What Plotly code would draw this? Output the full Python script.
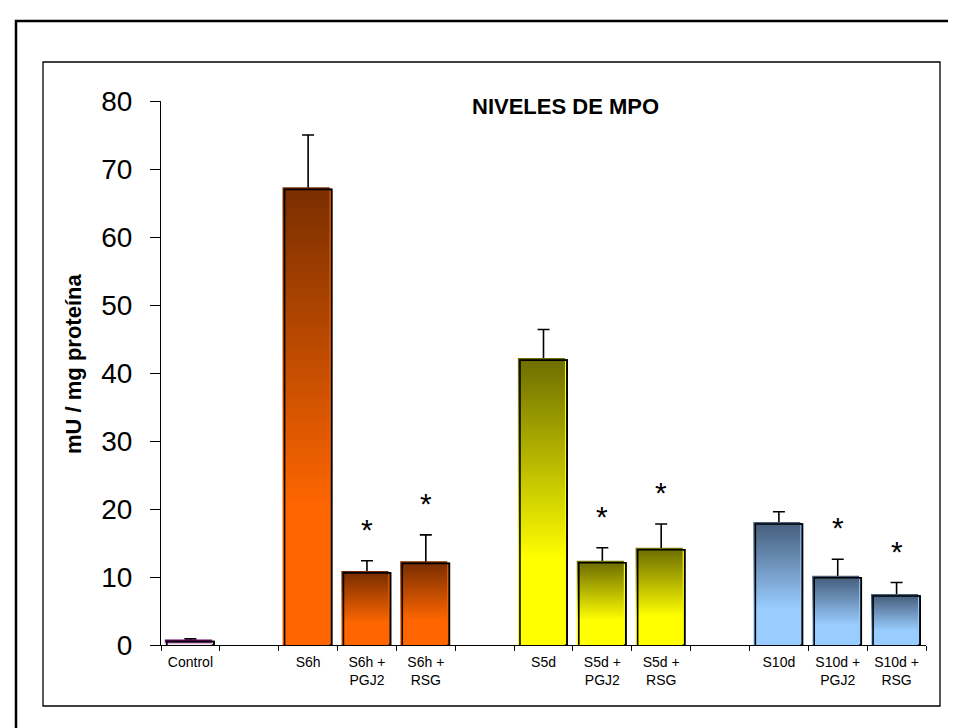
import plotly.graph_objects as go

# ---- data ----
categories = ["Control", "", "S6h", "S6h +<br>PGJ2", "S6h +<br>RSG", "",
              "S5d", "S5d +<br>PGJ2", "S5d +<br>RSG", "",
              "S10d", "S10d +<br>PGJ2", "S10d +<br>RSG"]
values = [0.5, None, 67.0, 10.6, 12.0, None, 41.9, 12.1, 14.0, None, 17.8, 9.9, 7.2]
errors = [0.4, None, 8.0, 1.8, 4.2, None, 4.5, 2.2, 3.8, None, 1.8, 2.7, 2.0]
significant = [False, False, False, True, True, False, False, True, True, False, False, True, True]
groups = ["ctrl", None, "s6h", "s6h", "s6h", None, "s5d", "s5d", "s5d", None, "s10d", "s10d", "s10d"]

title_text = "NIVELES DE MPO"
y_title = "mU / mg proteína"
y_ticks = [0, 10, 20, 30, 40, 50, 60, 70, 80]

# ---- styles ----
palette = {
    "ctrl": ("#f0e0f0", "#660066"),
    "s6h": ("#ff6600", "#7a2e00"),
    "s5d": ("#ffff00", "#6e6e00"),
    "s10d": ("#99ccff", "#465f7d"),
}
BAR_W = 0.8
SHIFT_X = 0.035   # shadow offset of the fill (x units)
SHIFT_Y = 0.3     # shadow offset of the fill (y units)
FONT = "Liberation Sans, Arial, sans-serif"

fig = go.Figure()

idx = [i for i, v in enumerate(values) if v is not None]

# base bars with error bars
fig.add_trace(go.Bar(
    x=idx, y=[values[i] for i in idx], width=BAR_W,
    marker=dict(color=[palette[groups[i]][0] for i in idx], line=dict(color="black", width=1.5)),
    error_y=dict(type="data", symmetric=False, array=[errors[i] for i in idx],
                 arrayminus=[0] * len(idx), color="black", thickness=1.6, width=6),
    showlegend=False, hoverinfo="skip",
))

# gradient fill per bar (slightly offset up-left, like the original 3-D look)
for i in idx:
    v = values[i]
    bottom, top = palette[groups[i]]
    x0, x1 = i - BAR_W / 2 - SHIFT_X, i + BAR_W / 2 - SHIFT_X
    fig.add_trace(go.Scatter(
        x=[x0, x0, x1, x1, x0], y=[0, v + SHIFT_Y, v + SHIFT_Y, 0, 0],
        mode="lines", fill="toself", line=dict(width=0),
        fillgradient=dict(type="vertical", start=0, stop=v,
                          colorscale=[[0, bottom], [0.3, bottom], [1, top]]),
        showlegend=False, hoverinfo="skip",
    ))

# black outlines of the bars
ox, oy = [], []
for i in idx:
    v = values[i]
    x0, x1 = i - BAR_W / 2, i + BAR_W / 2
    ox += [x0, x0, x1, x1, None]
    oy += [0, v, v, 0, None]
fig.add_trace(go.Scatter(x=ox, y=oy, mode="lines", line=dict(color="black", width=1.6),
                         showlegend=False, hoverinfo="skip"))

# significance asterisks
for i in idx:
    if significant[i]:
        fig.add_annotation(x=i, y=values[i] + errors[i] + 5.5, text="*", showarrow=False,
                           font=dict(family=FONT, size=30, color="black"),
                           yanchor="middle", yshift=-6)

labeled = [i for i, c in enumerate(categories) if c]
boundaries = [k - 0.5 for k in range(len(categories) + 1)]

fig.update_layout(
    width=956, height=728,
    margin=dict(l=153, r=38, t=93, b=91),
    paper_bgcolor="white", plot_bgcolor="white",
    font=dict(family=FONT, color="black"),
    xaxis=dict(range=[-0.5, len(categories) - 0.5], tickmode="array",
               tickvals=labeled, ticktext=[categories[i] for i in labeled],
               ticks="", tickfont=dict(size=14), showgrid=False, zeroline=False,
               showline=True, linecolor="black", linewidth=1.2, ticklabelstandoff=4,
               minor=dict(tickmode="array", tickvals=boundaries, ticks="outside",
                          ticklen=5, tickcolor="black", tickwidth=1.2)),
    yaxis=dict(range=[0, 80], tickmode="array", tickvals=y_ticks, ticks="outside",
               ticklen=10, tickcolor="black", tickwidth=1.2,
               tickfont=dict(size=28), showgrid=False, zeroline=False,
               showline=True, linecolor="black", linewidth=1.2, ticklabelstandoff=12),
    shapes=[
        dict(type="rect", xref="paper", yref="paper",
             x0=(8 - 153) / 765, x1=1.2, y0=-0.4, y1=(637 - 13) / 544,
             line=dict(color="black", width=2.5), layer="below"),
        dict(type="rect", xref="paper", yref="paper",
             x0=(35 - 153) / 765, x1=(932 - 153) / 765,
             y0=(637 - 698) / 544, y1=(637 - 54) / 544,
             line=dict(color="black", width=1.3), layer="below"),
    ],
    annotations=list(fig.layout.annotations) + [
        dict(text="<b>" + title_text + "</b>", xref="paper", yref="paper",
             x=(462 - 153) / 765, y=(637 - 99) / 544, xanchor="left", yanchor="middle",
             showarrow=False, font=dict(family=FONT, size=22, color="black")),
        dict(text="<b>" + y_title + "</b>", xref="paper", yref="paper",
             x=(65 - 153) / 765, y=(637 - 356) / 544, xanchor="center", yanchor="middle",
             textangle=-90, showarrow=False, font=dict(family=FONT, size=22, color="black")),
    ],
)

fig.write_html("out.html")
